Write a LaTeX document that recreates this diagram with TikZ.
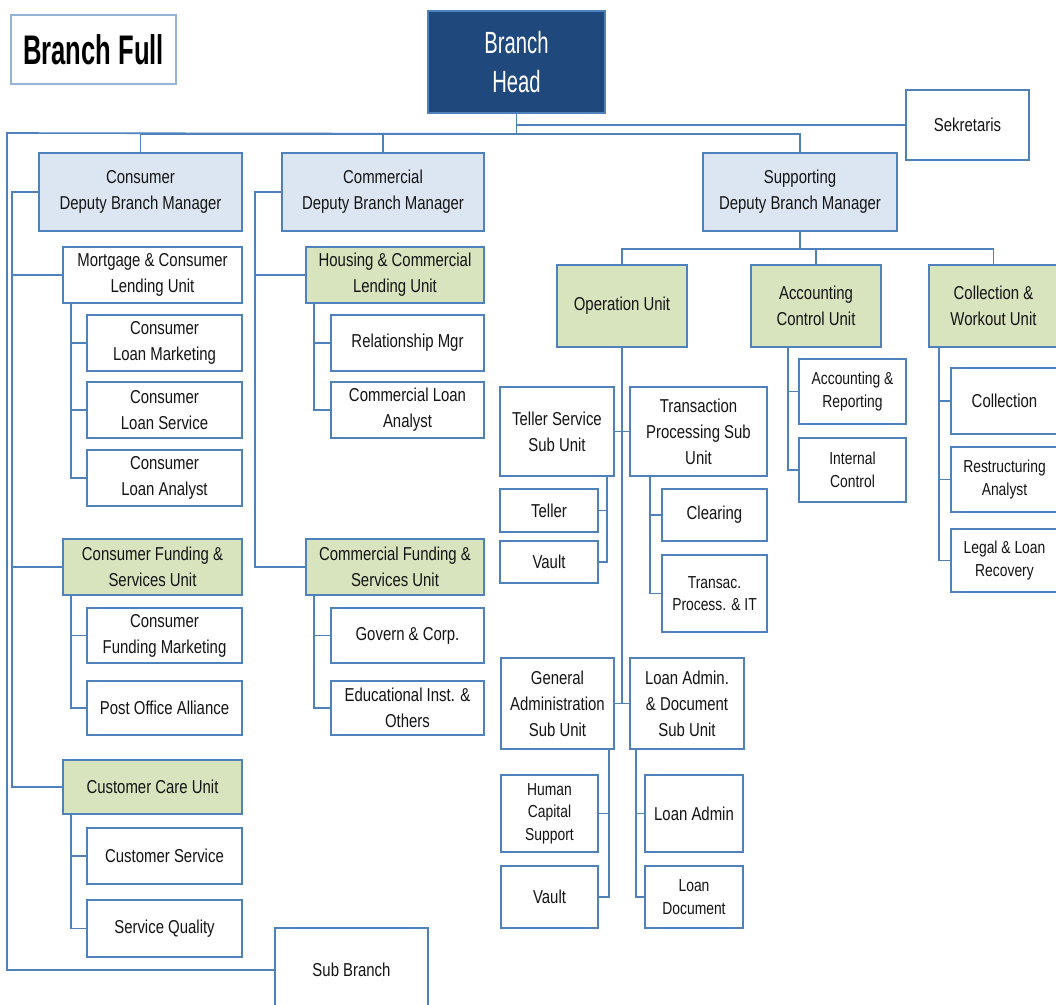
\documentclass[tikz,border=0pt]{standalone}
\usepackage{fontspec}
\setmainfont{Liberation Sans}[FakeStretch=0.8]
\newfontfamily\headfont{Liberation Sans}[FakeStretch=0.66]
\newfontfamily\titlefont{Liberation Sans}[FakeStretch=0.62]
\usetikzlibrary{calc}

\definecolor{orgblue}{HTML}{4F81BD}
\definecolor{headblue}{HTML}{1F497D}
\definecolor{dbmfill}{HTML}{DCE6F2}
\definecolor{unitfill}{HTML}{D7E4BD}
\definecolor{txt}{HTML}{141414}

\tikzset{
  box/.style={draw=orgblue, line width=1.3pt, fill=white, inner sep=0pt, align=center, text=txt, font=\fontsize{14}{19.5}\selectfont},
  dbm/.style={box, fill=dbmfill},
  unit/.style={box, fill=unitfill},
  small/.style={font=\fontsize{13}{17}\selectfont},
  corners/.style n args={4}{at={({(#1+#3)/2},{(#2+#4)/2})}, minimum width={(#3-#1)*0.75pt}, minimum height={(#4-#2)*0.75pt}},
  link/.style={draw=orgblue, line width=1.2pt},
}

\begin{document}
\begin{tikzpicture}[x=0.75pt, y=-0.75pt]
\useasboundingbox (0,0) rectangle (1056,1005);
\fill[white] (0,0) rectangle (1056,1005);

% top
\node[box, draw=orgblue!60, line width=0.9pt, corners={11}{15}{176}{84}, font=\titlefont\bfseries\fontsize{31}{36}\selectfont, text=black] (title) {Branch Full};
\node[box, fill=headblue, corners={428}{11}{605}{113}, text=white, font=\headfont\fontsize{23}{29}\selectfont] (head) {Branch\\Head};
\node[box, corners={906}{90}{1029}{160}] (sek) {Sekretaris};

\node[dbm, corners={39}{153}{242}{231}] (cdbm) {Consumer\\Deputy Branch Manager};
\node[dbm, corners={282}{153}{484}{231}] (mdbm) {Commercial\\Deputy Branch Manager};
\node[dbm, corners={703}{153}{897}{231}] (sdbm) {Supporting\\Deputy Branch Manager};

% consumer
\node[box, corners={63}{247}{242}{303}] (mcl) {Mortgage \& Consumer\\Lending Unit};
\node[box, corners={87}{315}{242}{371}] (clm) {Consumer\\Loan Marketing};
\node[box, corners={87}{382}{242}{438}] (cls) {Consumer\\Loan Service};
\node[box, corners={87}{450}{242}{506}] (cla) {Consumer\\Loan Analyst};
\node[unit, corners={63}{539}{242}{595}] (cfs) {Consumer Funding \&\\Services Unit};
\node[box, corners={87}{608}{242}{663}] (cfm) {Consumer\\Funding Marketing};
\node[box, corners={87}{681}{242}{735}] (poa) {Post Office Alliance};
\node[unit, corners={63}{760}{242}{814}] (ccu) {Customer Care Unit};
\node[box, corners={87}{828}{242}{884}] (csv) {Customer Service};
\node[box, corners={87}{900}{242}{957}] (sqa) {Service Quality};
\node[box, corners={275}{928}{428}{1012}] (sub) {Sub Branch};

% commercial
\node[unit, corners={306}{247}{484}{303}] (hcl) {Housing \& Commercial\\Lending Unit};
\node[box, corners={331}{315}{484}{371}] (rmg) {Relationship Mgr};
\node[box, corners={331}{382}{484}{438}] (clan) {Commercial Loan\\Analyst};
\node[unit, corners={306}{539}{484}{595}] (mfs) {Commercial Funding \&\\Services Unit};
\node[box, corners={331}{608}{484}{663}] (gvc) {Govern \& Corp.};
\node[box, corners={331}{681}{484}{735}] (edu) {Educational Inst. \&\\Others};

% supporting
\node[unit, corners={557}{265}{687}{347}] (opu) {Operation Unit};
\node[unit, corners={751}{265}{881}{347}] (acu) {Accounting\\Control Unit};
\node[unit, corners={929}{265}{1058}{347}] (cwu) {Collection \&\\Workout Unit};

\node[box, corners={500}{387}{614}{476}] (tss) {Teller Service\\Sub Unit};
\node[box, corners={630}{387}{767}{476}] (tps) {Transaction\\Processing Sub\\Unit};
\node[box, corners={500}{489}{598}{532}] (tel) {Teller};
\node[box, corners={500}{541}{598}{583}] (vlt) {Vault};
\node[box, corners={662}{489}{767}{541}] (clr) {Clearing};
\node[box, small, corners={662}{555}{767}{632}] (tpi) {Transac.\\Process. \& IT};
\node[box, corners={501}{658}{614}{749}] (gas) {General\\Administration\\Sub Unit};
\node[box, corners={630}{658}{744}{749}] (lds) {Loan Admin.\\\& Document\\Sub Unit};
\node[box, small, corners={501}{775}{598}{852}] (hcs) {Human\\Capital\\Support};
\node[box, corners={501}{866}{598}{928}] (vlt2) {Vault};
\node[box, corners={645}{775}{743}{852}] (lad) {Loan Admin};
\node[box, small, corners={645}{866}{743}{928}] (ldc) {Loan\\Document};

\node[box, small, corners={799}{359}{906}{424}] (arp) {Accounting \&\\Reporting};
\node[box, small, corners={799}{438}{906}{502}] (ict) {Internal\\Control};
\node[box, corners={951}{368}{1058}{434}] (col) {Collection};
\node[box, small, corners={951}{447}{1058}{512}] (rsa) {Restructuring\\Analyst};
\node[box, small, corners={951}{529}{1058}{592}] (llr) {Legal \& Loan\\Recovery};

% links
\coordinate (hbar) at ($(head.south)+(0,20)$);
\coordinate (lspine) at (7,133);
\draw[link] (head.south) |- (sek.west);
\draw[link] (head.south) -- (hbar) -| (cdbm.north);
\draw[link] (hbar) -| (mdbm.north);
\draw[link] (hbar) -| (sdbm.north);
\draw[link] (hbar) -- (lspine) |- (sub.west);

\coordinate (cspine) at ($(cdbm.west)+(-26,0)$);
\draw[link] (cdbm.west) -- (cspine) |- (ccu.west);
\foreach \n in {mcl,cfs} \draw[link] (cspine) |- (\n.west);
\coordinate (mspine) at ($(mdbm.west)+(-26,0)$);
\draw[link] (mdbm.west) -- (mspine) |- (mfs.west);
\draw[link] (mspine) |- (hcl.west);

\foreach \p/\c in {mcl/clm, mcl/cls, mcl/cla, cfs/cfm, cfs/poa, ccu/csv, ccu/sqa, hcl/rmg, hcl/clan, mfs/gvc, mfs/edu}
  \draw[link] ($(\p.south west)+(9,0)$) |- (\c.west);

\coordinate (sbar) at ($(sdbm.south)+(0,17)$);
\draw[link] (sdbm.south) -- (sbar);
\foreach \n in {opu,acu,cwu} \draw[link] (sbar) -| (\n.north);
\draw[link] (opu.south) -- (opu.south |- gas.east);
\draw[link] (tss.east) -- (tps.west);
\draw[link] (gas.east) -- (lds.west);

\foreach \c in {tel,vlt} \draw[link] ($(tss.south east)+(-8,0)$) |- (\c.east);
\foreach \c in {clr,tpi} \draw[link] ($(tps.south west)+(21,0)$) |- (\c.west);
\foreach \c in {hcs,vlt2} \draw[link] ($(gas.south east)+(-6,0)$) |- (\c.east);
\foreach \c in {lad,ldc} \draw[link] ($(lds.south west)+(7,0)$) |- (\c.west);
\foreach \c in {arp,ict} \draw[link] ($(acu.south west)+(38,0)$) |- (\c.west);
\foreach \c in {col,rsa,llr} \draw[link] ($(cwu.south west)+(11,0)$) |- (\c.west);

\end{tikzpicture}
\end{document}
